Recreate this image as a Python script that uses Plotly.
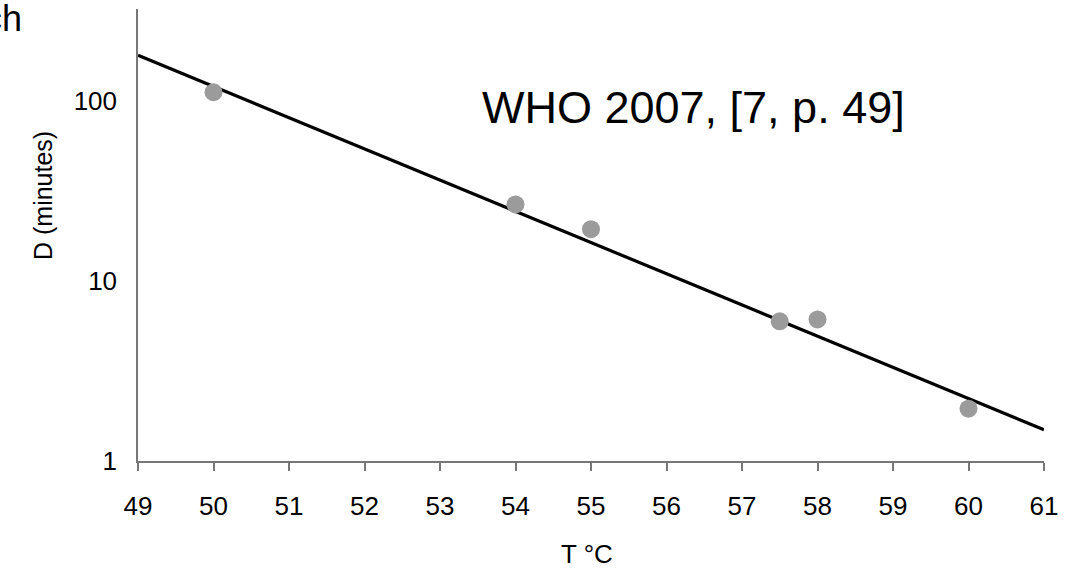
import plotly.graph_objects as go

# Data
temps = [50, 54, 55, 57.5, 58, 60]
d_minutes = [111, 26.5, 19.3, 5.95, 6.1, 1.95]
fit_t = [49, 61]
fit_d = [178, 1.49]
x_ticks = list(range(49, 62))
y_ticks = [1, 10, 100]
y_tick_labels = ["1", "10", "100"]

NARROW = "Liberation Sans Narrow, Arial Narrow, Liberation Sans, Arial, sans-serif"
REG = "Liberation Sans, Arial, sans-serif"

fig = go.Figure()
fig.add_trace(go.Scatter(x=fit_t, y=fit_d, mode="lines",
                         line=dict(color="black", width=3.2), showlegend=False,
                         hoverinfo="skip"))
fig.add_trace(go.Scatter(x=temps, y=d_minutes, mode="markers",
                         marker=dict(color="#9b9b9b", size=18, line=dict(width=0)),
                         showlegend=False))

fig.update_layout(
    width=1066, height=568,
    margin=dict(l=138, r=22, t=9, b=107),
    paper_bgcolor="white", plot_bgcolor="white",
    font=dict(family=NARROW, color="black", size=26),
    xaxis=dict(range=[49, 61], tickvals=x_ticks, ticks="outside", ticklen=8,
               tickcolor="#777777", tickwidth=1.5, showline=True,
               linecolor="#777777", linewidth=1.5, showgrid=False, zeroline=False,
               tickfont=dict(family=NARROW, size=26, color="black"),
               ticklabelstandoff=13),
    yaxis=dict(type="log", range=[0, 2.507], tickvals=y_ticks, ticktext=y_tick_labels,
               ticks="", showline=True, linecolor="#777777", linewidth=1.5,
               showgrid=False, zeroline=False,
               tickfont=dict(family=NARROW, size=26, color="black"),
               ticklabelstandoff=14),
    annotations=[
        dict(text="T °C", xref="paper", yref="paper", x=(587 - 138) / 906, y=0, yshift=-93,
             xanchor="center", yanchor="middle", showarrow=False,
             font=dict(family=NARROW, size=26, color="black")),
        dict(text="D (minutes)", xref="paper", yref="paper", x=0, xshift=-95,
             y=(461 - 196) / 452, yanchor="middle", xanchor="center", textangle=-90,
             showarrow=False, font=dict(family=NARROW, size=25, color="black")),
        dict(text="WHO 2007, [7, p. 49]", xref="paper", yref="paper",
             x=(693 - 138) / 906, y=(461 - 107) / 452, xanchor="center", yanchor="middle",
             showarrow=False, font=dict(family=REG, size=45, color="black")),
        dict(text="ch", xref="paper", yref="paper", x=0, xshift=-114,
             y=1, yshift=-9, xanchor="right", yanchor="middle",
             showarrow=False, font=dict(family=REG, size=36, color="black")),
    ],
)

fig.write_html("out.html")
